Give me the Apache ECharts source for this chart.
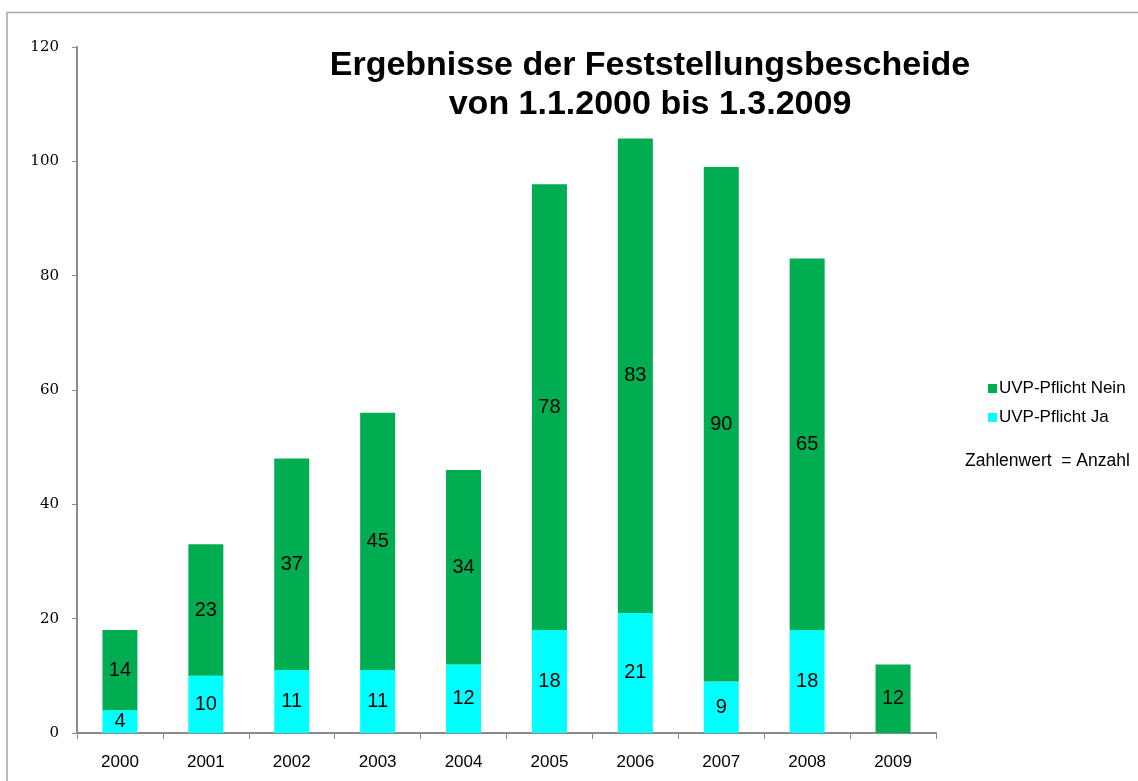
<!DOCTYPE html>
<html>
<head>
<meta charset="utf-8">
<script src="https://cdn.jsdelivr.net/npm/echarts@6/dist/echarts.min.js"></script>
<style>
  html, body { margin: 0; padding: 0; background: #fff; }
  #chart { width: 1138px; height: 781px; }
</style>
</head>
<body>
<div id="chart"></div>
<script>
// Daten aus dem Diagramm
const jahre = ['2000', '2001', '2002', '2003', '2004', '2005', '2006', '2007', '2008', '2009'];
const pflichtJa = [4, 10, 11, 11, 12, 18, 21, 9, 18, null];
const pflichtNein = [14, 23, 37, 45, 34, 78, 83, 90, 65, 12];
const yTicks = [0, 20, 40, 60, 80, 100, 120];

window.onload = function () {
  renderChart();
};

function renderChart() {
  const myChart = echarts.init(document.getElementById('chart'));

  const segmentLabel = {
    show: true,
    position: 'inside',
    color: '#000',
    fontFamily: 'Liberation Sans, Arial, sans-serif',
    fontSize: 20
  };

  const option = {
    backgroundColor: '#fff',
    animation: false,
    title: {
      text: 'Ergebnisse der Feststellungsbescheide\nvon 1.1.2000 bis 1.3.2009',
      left: 645,
      top: 41,
      textAlign: 'center',
      textStyle: {
        fontFamily: 'Liberation Sans, Arial, sans-serif',
        fontSize: 34,
        fontWeight: 'bold',
        color: '#000',
        lineHeight: 39
      }
    },
    legend: {
      orient: 'vertical',
      left: 983,
      top: 375,
      itemWidth: 9,
      itemHeight: 9,
      itemGap: 12,
      icon: 'rect',
      data: ['UVP-Pflicht Nein', 'UVP-Pflicht Ja'],
      textStyle: {
        fontFamily: 'Liberation Sans, Arial, sans-serif',
        fontSize: 17,
        color: '#000',
        padding: [0, 0, 0, -3]
      }
    },
    grid: {
      left: 77,
      right: 202,
      top: 47,
      bottom: 48
    },
    xAxis: {
      type: 'category',
      data: jahre,
      axisLine: { lineStyle: { color: '#8a8a8a', width: 2 } },
      axisTick: { show: true, length: 6, lineStyle: { color: '#8a8a8a', width: 1 } },
      axisLabel: {
        margin: 21,
        color: '#000',
        fontFamily: 'Liberation Sans, Arial, sans-serif',
        fontSize: 17
      }
    },
    yAxis: {
      type: 'value',
      min: yTicks[0],
      max: yTicks[yTicks.length - 1],
      interval: 20,
      splitLine: { show: false },
      axisLine: { show: true, lineStyle: { color: '#8a8a8a', width: 2 } },
      axisTick: { show: true, length: 5, lineStyle: { color: '#8a8a8a', width: 1 } },
      axisLabel: {
        margin: 18,
        color: '#000',
        fontFamily: 'DejaVu Serif, Liberation Serif, serif',
        fontSize: 15
      }
    },
    series: [
      {
        name: 'UVP-Pflicht Ja',
        type: 'bar',
        stack: 'gesamt',
        barWidth: 35,
        data: pflichtJa,
        itemStyle: { color: '#00ffff' },
        label: segmentLabel
      },
      {
        name: 'UVP-Pflicht Nein',
        type: 'bar',
        stack: 'gesamt',
        barWidth: 35,
        data: pflichtNein,
        itemStyle: { color: '#00ad50' },
        label: segmentLabel
      }
    ],
    graphic: [
      {
        // Rahmen oben und links
        type: 'polyline',
        shape: { points: [[7, 790], [7, 12.5], [1138, 12.5]] },
        style: { stroke: '#a6a6a6', lineWidth: 1.5, fill: null }
      },
      {
        type: 'text',
        left: 965,
        top: 452,
        style: {
          text: 'Zahlenwert  = Anzahl',
          fontFamily: 'Liberation Sans, Arial, sans-serif',
          fontSize: 17.5,
          fill: '#000'
        }
      }
    ]
  };

  myChart.setOption(option);
}
</script>
</body>
</html>
